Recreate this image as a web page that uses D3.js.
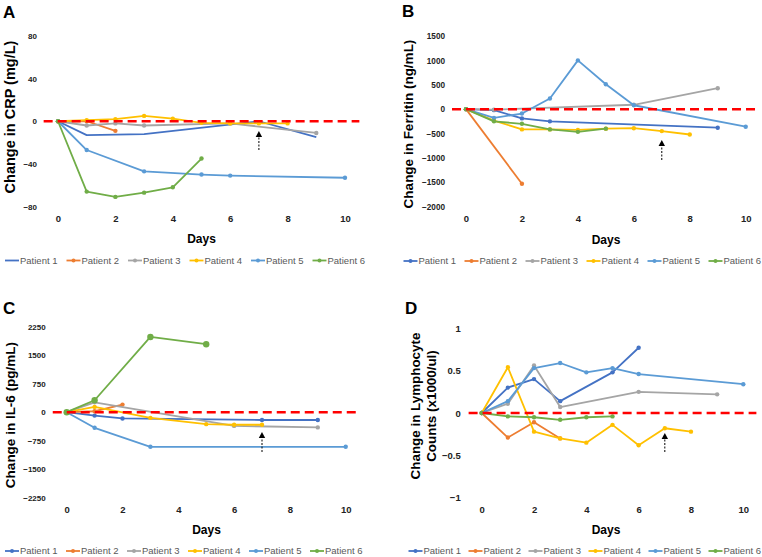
<!DOCTYPE html>
<html><head><meta charset="utf-8">
<script src="https://cdn.jsdelivr.net/npm/d3@7"></script>
<style>body{margin:0;background:#fff}svg{display:block}text{font-family:Arial,"Liberation Sans",sans-serif}</style>
</head><body>
<svg id="c" width="762" height="557"></svg>
<script>
const patients = ["Patient 1","Patient 2","Patient 3","Patient 4","Patient 5","Patient 6"];
const xTicks = [0,2,4,6,8,10];

// Panel A: CRP
const crpDays = [[0,1,3,7,9],[0,1,2],[0,1,2,3,6,9],[0,1,2,3,4,5,6,7,8],[0,1,3,5,6,10],[0,1,2,3,4,5]];
const crpValues = [[0,-13,-12,0,-15],[0,0,-9],[0,-4,-2,-4,-2,-11],[0,1,2,5,2.5,-1.5,-2,-2,-2],[0,-27,-47,-50,-51,-53],[0,-66,-71,-67,-62,-35]];
const crpTicks = [-80,-40,0,40,80];

// Panel B: Ferritin
const ferDays = [[0,1,2,3,9],[0,2],[0,1,6,9],[0,1,2,3,4,5,6,7,8],[0,1,2,3,4,5,6,10],[0,1,2,3,4,5]];
const ferValues = [[0,-20,-190,-250,-380],[0,-1530],[0,-10,90,430],[0,-235,-415,-415,-425,-400,-390,-450,-520],[0,-180,-90,220,1000,510,80,-360],[0,-250,-300,-415,-465,-400]];
const ferTicks = [-2000,-1500,-1000,-500,0,500,1000,1500];

// Panel C: IL-6
const il6Days = [[0,1,2,7,9],[0,1,2],[0,1,6,9],[0,1,3,5,6,7],[0,1,3,10],[0,1,3,5]];
const il6Values = [[0,-90,-165,-205,-205],[0,25,200],[0,260,-360,-400],[0,140,-150,-315,-330,-330],[0,-410,-910,-910],[0,315,1980,1790]];
const il6Ticks = [-2250,-1500,-750,0,750,1500,2250];

// Panel D: Lymphocytes
const lymDays = [[0,1,2,3,5,6],[0,1,2,3],[0,1,2,3,6,9],[0,1,2,3,4,5,6,7,8],[0,1,2,3,4,5,6,10],[0,1,2,3,4,5]];
const lymValues = [[0,0.30,0.40,0.14,0.48,0.77],[0,-0.29,-0.11,-0.30],[0,0.11,0.56,0.07,0.25,0.22],[0,0.54,-0.22,-0.30,-0.35,-0.14,-0.38,-0.18,-0.22],[0,0.14,0.53,0.59,0.48,0.53,0.46,0.34],[0,-0.04,-0.05,-0.08,-0.05,-0.04]];
const lymTicks = [-1,-0.5,0,0.5,1];

const colors = ["#4472C4","#ED7D31","#A5A5A5","#FFC000","#5B9BD5","#70AD47"];
const svg = d3.select("#c");

const panels = [
  {letter:"A", lx:3, ly:18, days:crpDays, vals:crpValues, ticks:crpTicks, ydom:[-80,80],
   xr:[58,345], yr:[206.5,36], yfs:8, title:["Change in CRP (mg/L)"], tx:[15], tcy:117, tfs:14.5,
   legX:5, legY:260.5, legStep:61.5, r:[0,2.2,2.2,2.2,2.2,2.2], legMarker:[false,true,true,true,true,true], daysX:201.5, daysY:243, arrowDay:7, arrowY:[150,131]},
  {letter:"B", lx:402, ly:17, days:ferDays, vals:ferValues, ticks:ferTicks, ydom:[-2000,1500],
   xr:[466,745.7], yr:[206.7,36], yfs:8.2, title:["Change in Ferritin (ng/mL)"], tx:[413], tcy:124, tfs:13.5,
   legX:403.5, legY:261, legStep:61, r:[2.2,2.2,2.2,2.2,2.2,2.2], legMarker:[true,true,true,true,true,true], daysX:606, daysY:243.5, arrowDay:7, arrowY:[160,140]},
  {letter:"C", lx:3, ly:314, days:il6Days, vals:il6Values, ticks:il6Ticks, ydom:[-2250,2250],
   xr:[66.7,345.7], yr:[497.7,326.7], yfs:8, title:["Change in IL-6 (pg/mL)"], tx:[15], tcy:415, tfs:13.5,
   legX:5, legY:551, legStep:61, r:[2.2,2.2,2.2,2.2,2.2,3.2], legMarker:[true,true,true,true,true,true], daysX:206.5, daysY:534, arrowDay:7, arrowY:[452,432]},
  {letter:"D", lx:405, ly:314, days:lymDays, vals:lymValues, ticks:lymTicks, ydom:[-1,1],
   xr:[481.7,743.3], yr:[497.7,328.3], yfs:9.5, title:["Change in Lymphocyte","Counts (x1000/ul)"], tx:[420,436], tcy:406, tfs:13.4,
   legX:408.5, legY:551, legStep:60, r:[2.2,2.2,2.2,2.2,2.2,2.2], legMarker:[true,true,true,true,true,true], daysX:606, daysY:534, arrowDay:7, arrowY:[452,433]}
];

panels.forEach(p => {
  const g = svg.append("g");
  const x = d3.scaleLinear().domain([0,10]).range(p.xr);
  const y = d3.scaleLinear().domain(p.ydom).range(p.yr);

  // panel letter
  g.append("text").attr("x",p.lx).attr("y",p.ly).attr("font-size",17).attr("font-weight","bold").attr("fill","#000").text(p.letter);

  // y axis
  const ya = g.append("g").attr("transform",`translate(${x(0)-21},0)`)
    .call(d3.axisLeft(y).tickValues(p.ticks).tickSize(0).tickPadding(0).tickFormat(d3.format("")));
  ya.select(".domain").remove();
  ya.selectAll("text").attr("font-size",p.yfs).attr("font-weight","bold").attr("fill","#222").attr("font-family","Arial, 'Liberation Sans', sans-serif");

  // x axis
  const xa = g.append("g").attr("transform",`translate(0,${y(p.ydom[0])})`)
    .call(d3.axisBottom(x).tickValues(xTicks).tickSize(0).tickPadding(9).tickFormat(d3.format("d")));
  xa.select(".domain").remove();
  xa.selectAll("text").attr("font-size",9.5).attr("font-weight","bold").attr("fill","#222").attr("font-family","Arial, 'Liberation Sans', sans-serif");

  // axis titles
  g.append("text").attr("x",p.daysX).attr("y",p.daysY).attr("text-anchor","middle")
    .attr("font-size",12).attr("font-weight","bold").attr("fill","#000").text("Days");
  p.title.forEach((t,i) => {
    g.append("text").attr("transform",`translate(${p.tx[i]},${p.tcy}) rotate(-90)`)
      .attr("text-anchor","middle").attr("font-size",p.tfs).attr("font-weight","bold").attr("fill","#000").text(t);
  });

  // series
  const line = d3.line().x(d=>x(d[0])).y(d=>y(d[1]));
  patients.forEach((name,i) => {
    const pts = p.days[i].map((d,j)=>[d,p.vals[i][j]]);
    g.append("path").datum(pts).attr("d",line).attr("fill","none")
      .attr("stroke",colors[i]).attr("stroke-width",1.8).attr("stroke-linejoin","round");
    if (p.r[i] > 0) {
      g.selectAll(null).data(pts).enter().append("circle")
        .attr("cx",d=>x(d[0])).attr("cy",d=>y(d[1])).attr("r",p.r[i]).attr("fill",colors[i]);
    }
  });

  // zero reference line
  g.append("line").attr("x1",x(-0.5)).attr("x2",x(10.5)).attr("y1",y(0)).attr("y2",y(0))
    .attr("stroke","#FF0000").attr("stroke-width",2.5).attr("stroke-dasharray","9,5");

  // arrow
  const ax = x(p.arrowDay);
  g.append("line").attr("x1",ax).attr("x2",ax).attr("y1",p.arrowY[0]).attr("y2",p.arrowY[1]+5)
    .attr("stroke","#000").attr("stroke-width",1).attr("stroke-dasharray","2,1.5");
  g.append("path").attr("d",`M${ax},${p.arrowY[1]} L${ax-3.2},${p.arrowY[1]+6} L${ax+3.2},${p.arrowY[1]+6} Z`).attr("fill","#000");

  // legend
  patients.forEach((name,i) => {
    const lx = p.legX + i*p.legStep;
    const lg = g.append("g");
    lg.append("line").attr("x1",lx).attr("x2",lx+14).attr("y1",p.legY).attr("y2",p.legY)
      .attr("stroke",colors[i]).attr("stroke-width",1.8);
    if (p.legMarker[i]) lg.append("circle").attr("cx",lx+7).attr("cy",p.legY).attr("r",2).attr("fill",colors[i]);
    lg.append("text").attr("x",lx+15).attr("y",p.legY+3.3).attr("font-size",9.5).attr("fill","#595959").text(name);
  });
});
</script>
</body></html>
